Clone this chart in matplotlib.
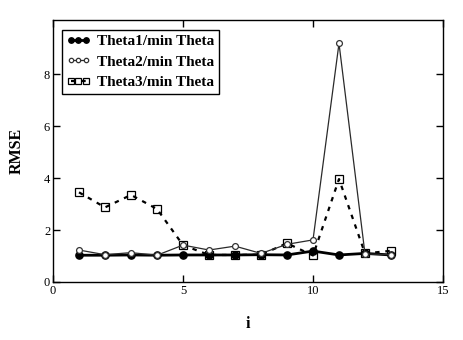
import matplotlib
matplotlib.use("Agg")
import matplotlib.pyplot as plt

i_vals = [1, 2, 3, 4, 5, 6, 7, 8, 9, 10, 11, 12, 13]
theta1 = [1.03, 1.03, 1.04, 1.03, 1.04, 1.04, 1.04, 1.05, 1.04, 1.19, 1.04, 1.10, 1.04]
theta2 = [1.23, 1.05, 1.13, 1.03, 1.42, 1.23, 1.38, 1.10, 1.45, 1.62, 9.18, 1.08, 1.05]
theta3 = [3.45, 2.87, 3.35, 2.81, 1.42, 1.04, 1.04, 1.05, 1.49, 1.02, 3.96, 1.10, 1.20]
labels = ["Theta1/min Theta", "Theta2/min Theta", "Theta3/min Theta"]
xticks = [0, 5, 10, 15]
yticks = [0, 2, 4, 6, 8]

serif = ["Liberation Serif", "DejaVu Serif"]

fig = plt.figure(figsize=(4.63, 3.40), dpi=100)
ax = fig.add_axes([53 / 463, 58 / 340, 390 / 463, 262 / 340])

ax.plot(i_vals, theta1, color="black", lw=2.0, marker="o", ms=5.2,
        mfc="black", mec="black", label=labels[0], zorder=3)
ax.plot(i_vals, theta2, color="#2a2a2a", lw=0.9, marker="o", ms=4.2,
        mfc="white", mec="#333333", mew=0.9, label=labels[1], zorder=4)
ax.plot(i_vals, theta3, color="black", lw=1.6, ls=(0, (2.0, 2.6)), marker="s",
        ms=5.2, mfc="none", mec="black", mew=0.9, label=labels[2], zorder=3.5)

ax.set_xlim(0, 15)
ax.set_ylim(0, 10.08)
ax.set_xticks(xticks)
ax.set_yticks(yticks)
ax.tick_params(direction="in", length=5, width=1, top=True, right=True,
               labelsize=9, pad=2)
for lab in ax.get_xticklabels() + ax.get_yticklabels():
    lab.set_fontfamily(serif)
for s in ax.spines.values():
    s.set_linewidth(1.0)

ax.set_xlabel("i", fontsize=11.5, fontweight="bold", family=serif, labelpad=14)
ax.set_ylabel("RMSE", fontsize=11.5, fontweight="bold", family=serif, labelpad=14)

leg = ax.legend(loc="upper left", bbox_to_anchor=(0.022, 0.962), numpoints=3,
                handlelength=1.6, handletextpad=0.45, borderpad=0.3,
                labelspacing=0.45, fancybox=False, framealpha=1,
                markerscale=0.75,
                edgecolor="black", borderaxespad=0,
                prop={"family": serif, "weight": "bold", "size": 11})
leg.get_frame().set_linewidth(1.0)

fig.savefig("out.png", dpi=100)
